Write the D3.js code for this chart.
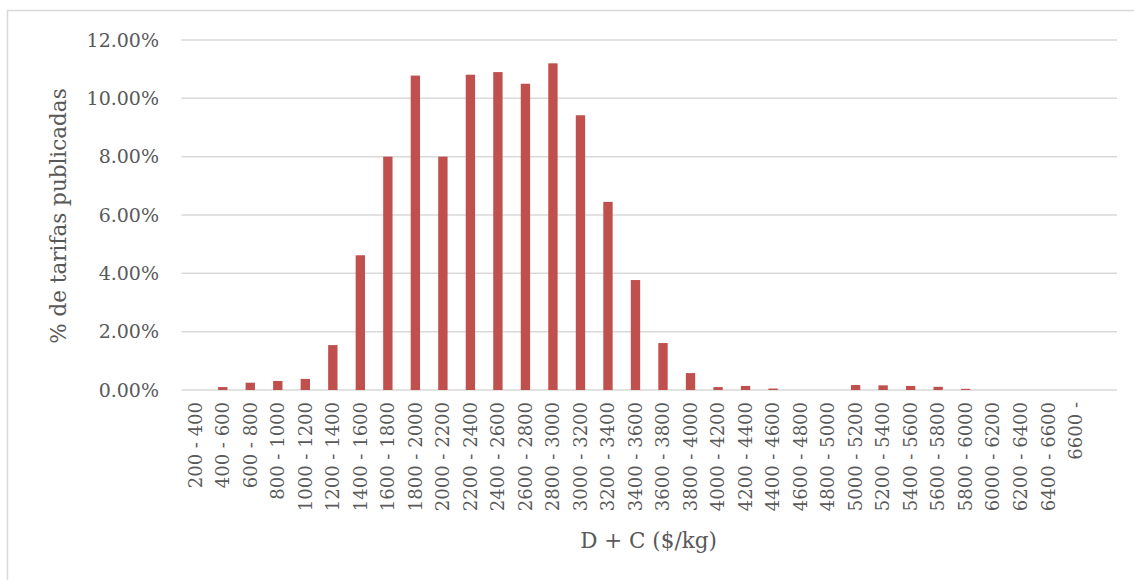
<!DOCTYPE html>
<html>
<head>
<meta charset="utf-8">
<script src="https://cdn.jsdelivr.net/npm/d3@7"></script>
<style>
  html, body { margin: 0; padding: 0; background: #fff; }
  svg { display: block; }
</style>
</head>
<body>
<svg id="chart" width="1134" height="580"></svg>
<script>
const categories = [
  "200 - 400", "400 - 600", "600 - 800", "800 - 1000", "1000 - 1200",
  "1200 - 1400", "1400 - 1600", "1600 - 1800", "1800 - 2000", "2000 - 2200",
  "2200 - 2400", "2400 - 2600", "2600 - 2800", "2800 - 3000", "3000 - 3200",
  "3200 - 3400", "3400 - 3600", "3600 - 3800", "3800 - 4000", "4000 - 4200",
  "4200 - 4400", "4400 - 4600", "4600 - 4800", "4800 - 5000", "5000 - 5200",
  "5200 - 5400", "5400 - 5600", "5600 - 5800", "5800 - 6000", "6000 - 6200",
  "6200 - 6400", "6400 - 6600", "6600 - ", ""
];
const shares = [
  0.0000, 0.0010, 0.0025, 0.0031, 0.0038,
  0.0154, 0.0462, 0.0800, 0.1078, 0.0800,
  0.1081, 0.1090, 0.1050, 0.1120, 0.0942,
  0.0645, 0.0377, 0.0161, 0.0058, 0.0010,
  0.0014, 0.0005, 0.0000, 0.0000, 0.0017,
  0.0016, 0.0014, 0.0011, 0.0004, 0.0000,
  0.0000, 0.0000, 0.0000, 0.0000
];
const yTicks = [0, 0.02, 0.04, 0.06, 0.08, 0.10, 0.12];
const yTitle = "% de tarifas publicadas";
const xTitle = "D + C ($/kg)";

const svg = d3.select("#chart");
const font = "'DejaVu Serif', serif";
const textColor = "#595959";
const gridColor = "#d9d9d9";
const barColor = "#c0504d";

// outer frame
svg.append("rect")
  .attr("x", 7.5).attr("y", 10.5)
  .attr("width", 1140).attr("height", 600)
  .attr("fill", "none").attr("stroke", gridColor).attr("stroke-width", 1.5);

const x = d3.scaleBand()
  .domain(categories)
  .range([181.5, 1117])
  .paddingInner(0.66)
  .paddingOuter(0.33);

const y = d3.scaleLinear().domain([0, 0.12]).range([390, 40]);

// gridlines
svg.append("g")
  .selectAll("line")
  .data(yTicks)
  .join("line")
  .attr("x1", 181.5).attr("x2", 1117)
  .attr("y1", d => y(d)).attr("y2", d => y(d))
  .attr("stroke", gridColor).attr("stroke-width", 1.5);

// y axis labels
const yAxis = d3.axisLeft(y).tickValues(yTicks).tickFormat(d3.format(".2%")).tickSize(0).tickPadding(0);
const yg = svg.append("g").attr("transform", "translate(159,0)").call(yAxis);
yg.select(".domain").remove();
yg.selectAll("text")
  .attr("fill", textColor)
  .style("font-family", font)
  .style("font-size", "19px");

// bars
svg.append("g")
  .selectAll("rect")
  .data(categories.map((c, i) => ({ c, v: shares[i] })))
  .join("rect")
  .attr("x", d => x(d.c))
  .attr("width", x.bandwidth())
  .attr("y", d => y(d.v))
  .attr("height", d => y(0) - y(d.v))
  .attr("fill", barColor);

// x axis labels (rotated)
const xAxis = d3.axisBottom(x).tickSize(0).tickPadding(0);
const xg = svg.append("g").attr("transform", "translate(0,402)").call(xAxis);
xg.select(".domain").remove();
xg.selectAll("text")
  .attr("fill", textColor)
  .style("font-family", font)
  .style("font-size", "18px")
  .attr("text-anchor", "end")
  .attr("transform", "rotate(-90)")
  .attr("x", 0)
  .attr("y", 0)
  .attr("dy", "0.35em");

// axis titles
svg.append("text")
  .attr("transform", "translate(58,216) rotate(-90)")
  .attr("text-anchor", "middle")
  .attr("dy", "0.35em")
  .attr("fill", textColor)
  .style("font-family", font)
  .style("font-size", "21.5px")
  .text(yTitle);

svg.append("text")
  .attr("x", 648.5).attr("y", 548)
  .attr("text-anchor", "middle")
  .attr("fill", textColor)
  .style("font-family", font)
  .style("font-size", "21.5px")
  .text(xTitle);
</script>
</body>
</html>
